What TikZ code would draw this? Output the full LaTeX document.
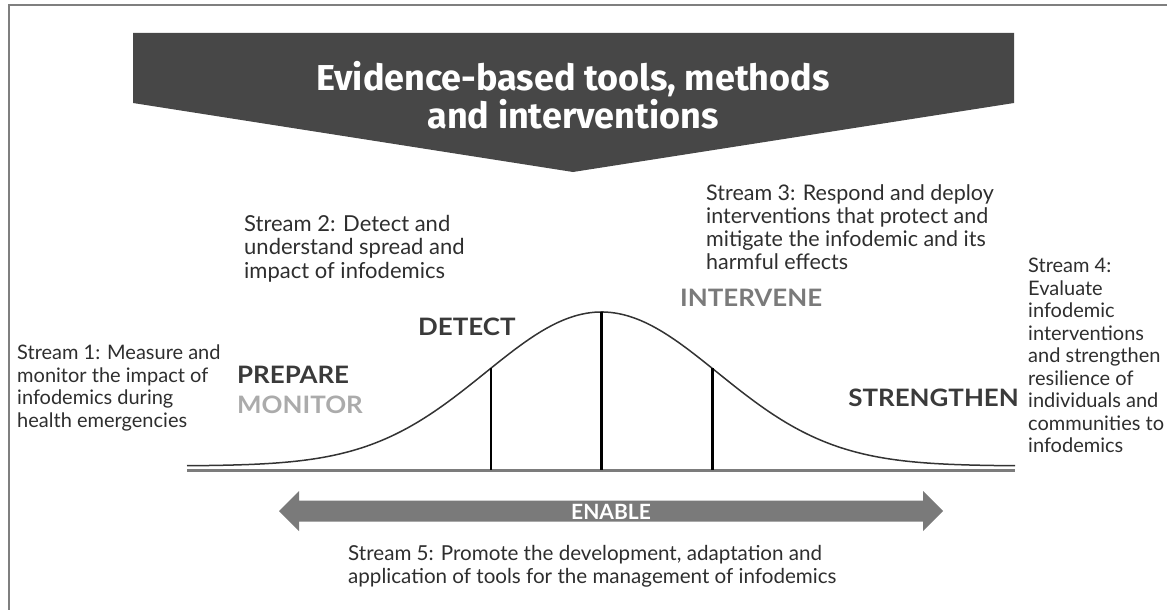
\documentclass[tikz,border=0pt]{standalone}
\usepackage{fontspec}
\setmainfont{Lato}
\newfontfamily\bannerfont{Fira Sans}
\newfontfamily\heavyfont[FakeStretch=1.08]{Lato}
\definecolor{bannergray}{HTML}{474747}
\definecolor{framegray}{HTML}{7F7F7F}
\definecolor{txtgray}{HTML}{2E2E2E}
\definecolor{labeldark}{HTML}{3A3A3A}
\definecolor{labellight}{HTML}{ABABAB}
\definecolor{labelmid}{HTML}{7A7A7A}
\definecolor{enablegray}{HTML}{7A7A7A}
\definecolor{basegray}{HTML}{7C7C7C}
\definecolor{curvegray}{HTML}{333333}
\begin{document}
\begin{tikzpicture}[x=1pt,y=-1pt,
  streamtxt/.style={align=left, anchor=north west, inner sep=0pt, text=txtgray, font=\fontsize{20}{22.5}\selectfont},
  condtxt/.style={streamtxt, font=\fontsize{21.5}{23.3}\selectfont},
  phase/.style={anchor=west, inner sep=0pt, font=\heavyfont\bfseries\fontsize{24}{26}\selectfont},
  divider/.style={line width=2.4pt, black},
]
\useasboundingbox (0,0) rectangle (1167,610);
% frame
\draw[framegray, line width=2pt] (8.5,612) -- (8.5,5.5) -- (1170,5.5);
% banner arrow
\fill[bannergray] (133,33) -- (1014,33) -- (1014,103) -- (573,172) -- (133,103) -- cycle;
\node[align=center, text=white, inner sep=0pt, font=\bannerfont\bfseries\fontsize{36}{38}\selectfont] (banner) at (573,95)
  {Evidence-based tools, methods\\and interventions};
% baseline and curve
\coordinate (bl) at (187,470.5);
\coordinate (br) at (1015,470.5);
\draw[basegray, line width=2.6pt] (bl) -- (br);
\draw[curvegray, line width=1.5pt] plot[domain=187:1015, samples=200, smooth] (\x, {466-154*exp(-0.5*((\x-601.5)/116)^2)});
\coordinate (t1) at (490.7,368);
\coordinate (t2) at (601.5,312);
\coordinate (t3) at (712.3,368);
\coordinate (b1) at (490.7,470);
\coordinate (b2) at (601.5,470);
\coordinate (b3) at (712.3,470);
\draw[divider] (t1) -- (b1);
\draw[divider] (t2) -- (b2);
\draw[divider] (t3) -- (b3);
% phase labels
\node[phase, text=labeldark] (prepare) at (237,375) {PREPARE};
\node[phase, text=labellight] (monitor) at (237,405) {MONITOR};
\node[phase, text=labeldark] (detect) at (418,327) {DETECT};
\node[phase, text=labelmid] (intervene) at (680,298) {INTERVENE};
\node[phase, text=labeldark, anchor=east] (strengthen) at (1019,398) {STRENGTHEN};
% stream texts
\node[streamtxt] (s1) at (17,345) {Stream 1: Measure and\\monitor the impact of\\infodemics during\\health emergencies};
\node[condtxt, font=\fontsize{22}{23.5}\selectfont] (s2) at (244,215) {Stream 2: Detect and\\understand spread and\\impact of infodemics};
\node[condtxt] (s3) at (706,184) {Stream 3: Respond and deploy\\interventions that protect and\\mitigate the infodemic and its\\harmful effects};
\node[streamtxt, font=\fontsize{20}{22.5}\selectfont] (s4) at (1028,258) {Stream 4:\\Evaluate\\infodemic\\interventions\\and strengthen\\resilience of\\individuals and\\communities to\\infodemics};
\node[condtxt, font=\fontsize{20.6}{23.3}\selectfont] (s5) at (348,545) {Stream 5: Promote the development, adaptation and\\application of tools for the management of infodemics};
% enable arrow
\fill[enablegray] (279,511) -- (299,491) -- (299,500.5) -- (923,500.5) -- (923,491) -- (943,511) -- (923,531) -- (923,521.5) -- (299,521.5) -- (299,531) -- cycle;
\node[text=white, inner sep=0pt, font=\bfseries\fontsize{21}{22}\selectfont] (enable) at (611,512) {ENABLE};
\end{tikzpicture}
\end{document}
